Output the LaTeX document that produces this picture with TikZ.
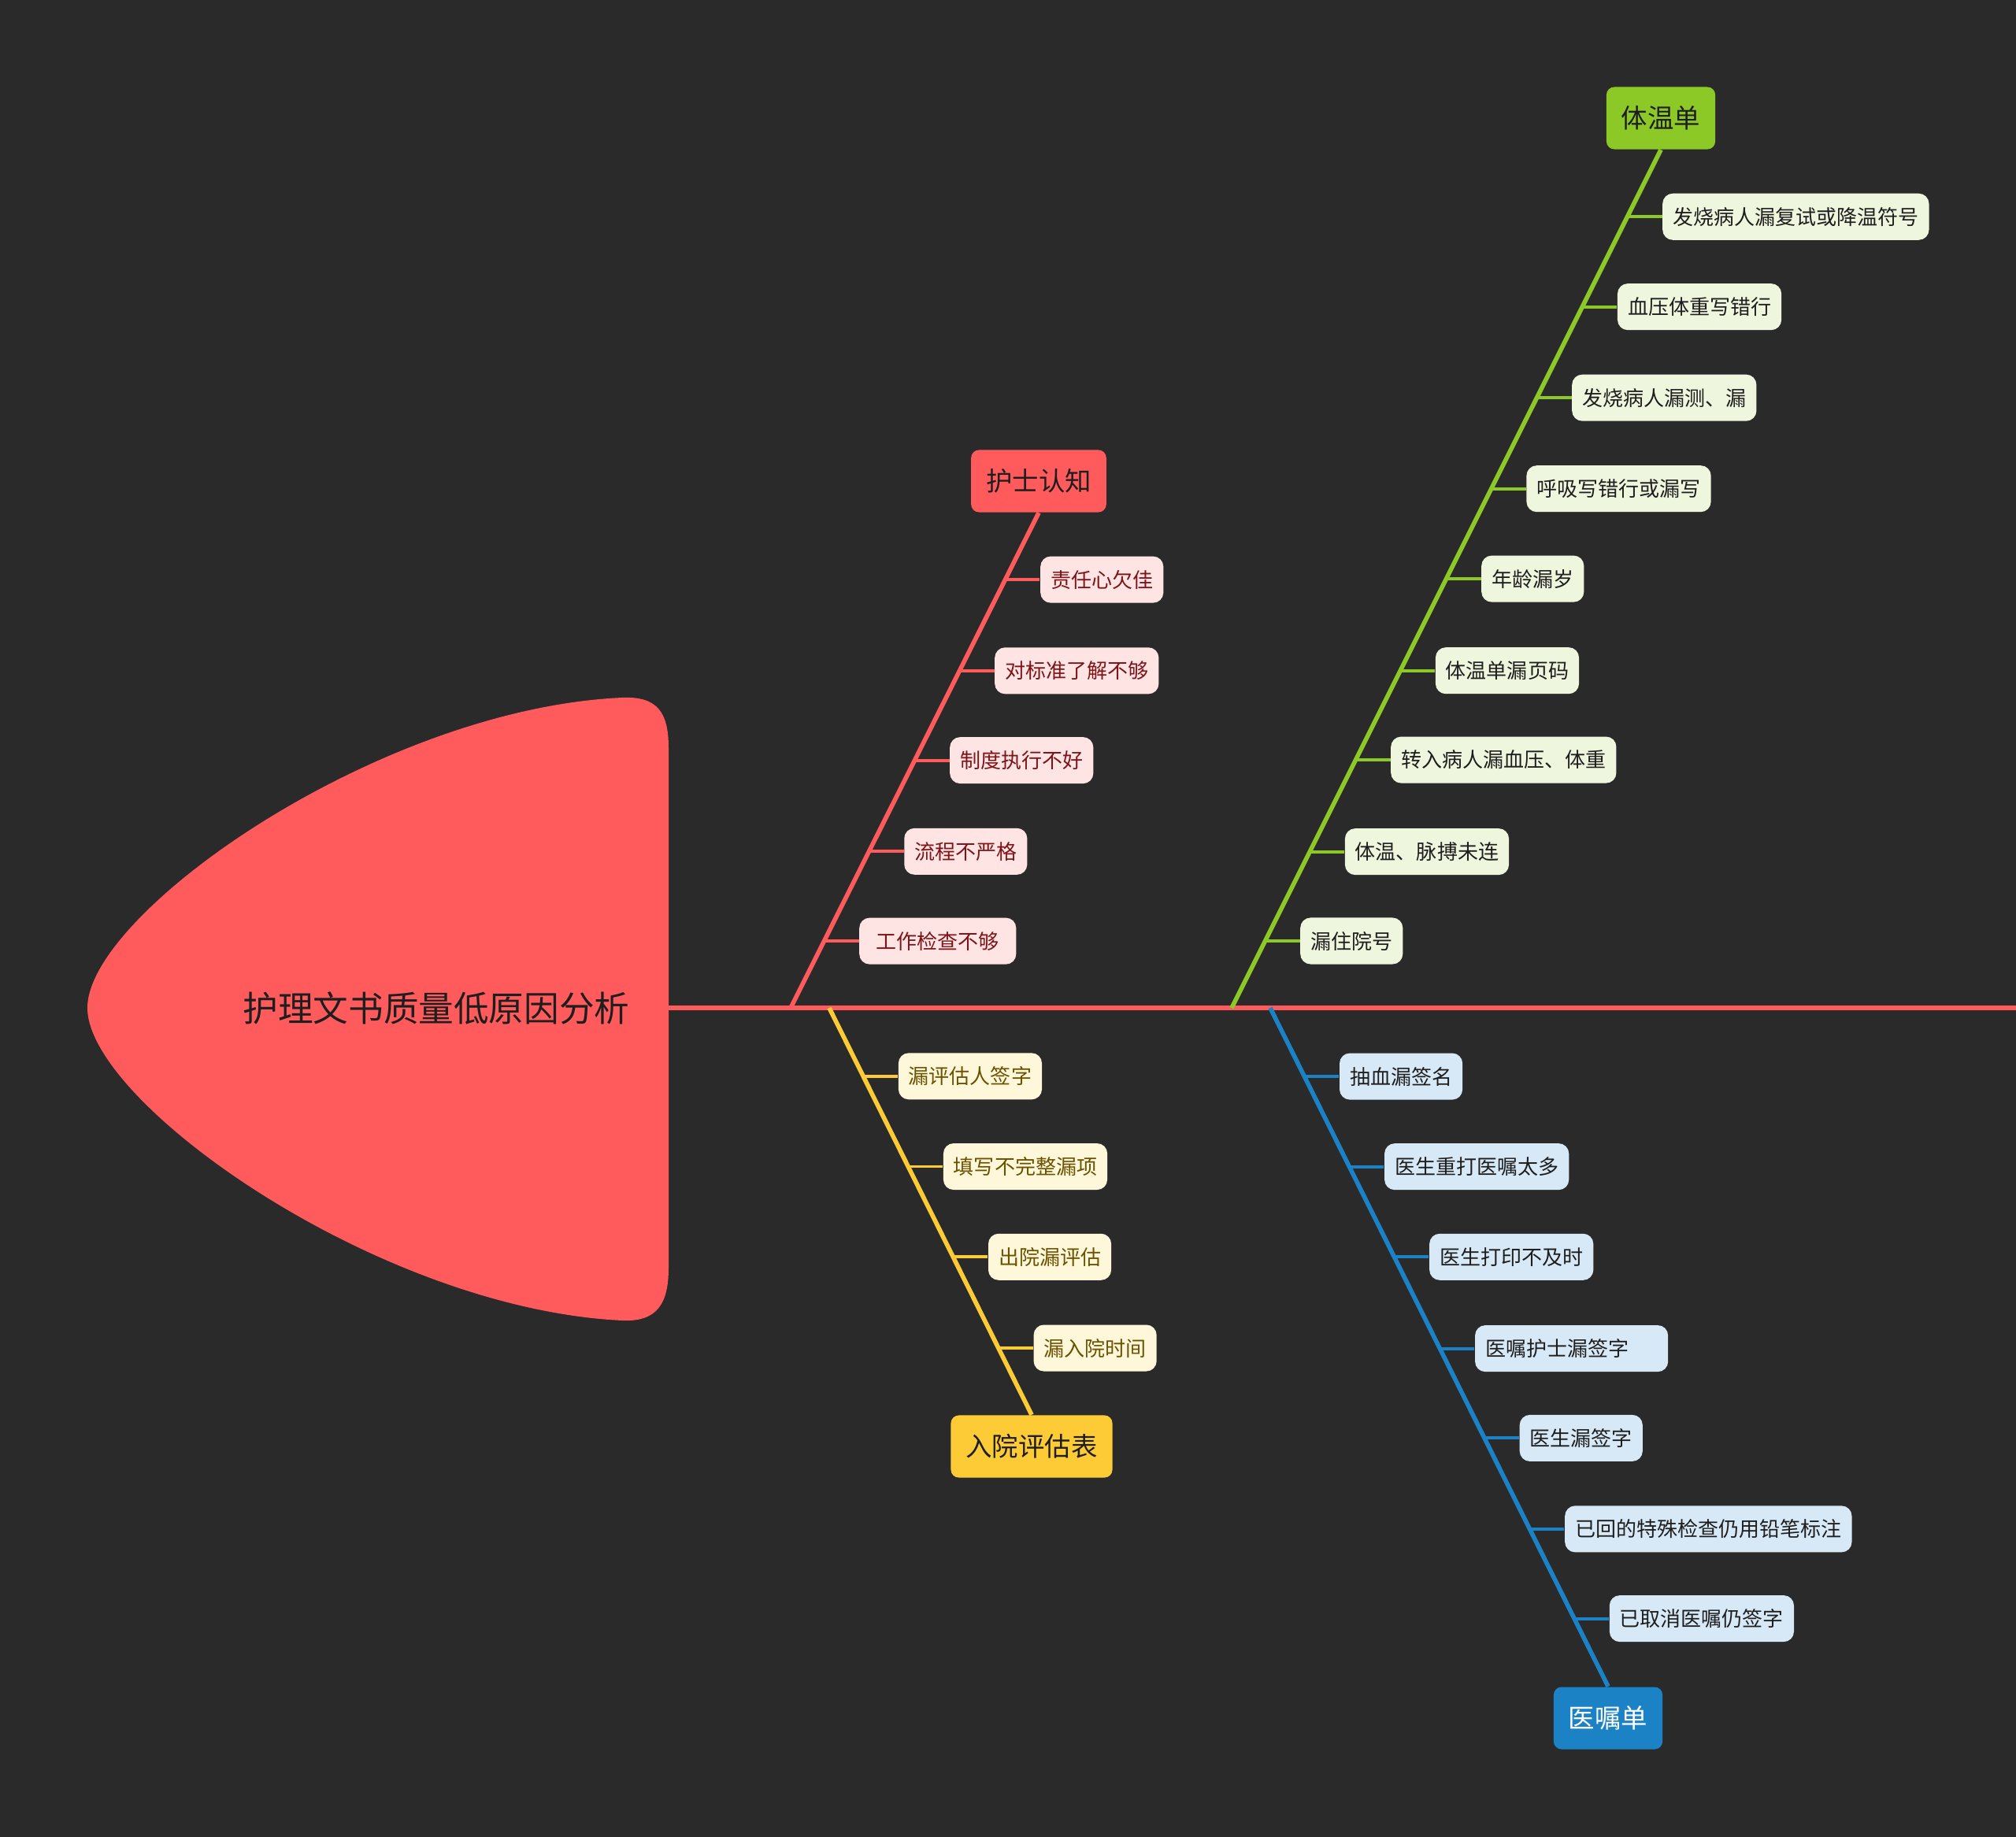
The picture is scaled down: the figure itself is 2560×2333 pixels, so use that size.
\documentclass[tikz,border=0pt]{standalone}
\usepackage{fontspec}
\usepackage{tikz}
\usetikzlibrary{calc, positioning}
\usepackage{xcolor}
\newfontfamily\cjk{Noto Sans CJK SC}
\definecolor{fishBg}{HTML}{2A2A2A}
\definecolor{fishRed}{HTML}{FF5A5C}
\definecolor{fishGreen}{HTML}{8DC926}
\definecolor{fishYellow}{HTML}{FDCB35}
\definecolor{fishBlue}{HTML}{1C82C6}
\definecolor{leafRed}{HTML}{FFE4E4}
\definecolor{leafGreen}{HTML}{EEF6DE}
\definecolor{leafYellow}{HTML}{FFF7DA}
\definecolor{leafBlue}{HTML}{D7E9F6}
\definecolor{inkRed}{HTML}{7D1419}
\definecolor{inkYellow}{HTML}{6B5200}
\definecolor{inkDark}{HTML}{1E1E1E}

\begin{document}
\begin{tikzpicture}[
    x=0.01cm, y=-0.01cm,
    spine/.style={draw=fishRed, line width=1.5pt},
    bone/.style={line width=1.6pt},
    stub/.style={line width=1.1pt},
    cause/.style={rounded corners=0.1cm, minimum height=0.79cm, inner xsep=0.19cm, inner ysep=0pt, font=\cjk\fontsize{9.5}{11}\selectfont},
    leaf/.style={anchor=west, rounded corners=0.13cm, minimum height=0.59cm, inner xsep=0.13cm, inner ysep=0pt, font=\cjk\fontsize{7.4}{9}\selectfont},
    redleaf/.style={leaf, fill=leafRed, text=inkRed},
    greenleaf/.style={leaf, fill=leafGreen, text=inkDark},
    yellowleaf/.style={leaf, fill=leafYellow, text=inkYellow},
    blueleaf/.style={leaf, fill=leafBlue, text=inkDark}
]
    \useasboundingbox (0,0) rectangle (2560,2333);
    \fill[fishBg] (0,0) rectangle (2560,2333);

    % head of the fish
    \fill[fishRed] (111,1280) .. controls (111,1160) and (480,900) .. (790,886)
        .. controls (835,884) and (849,905) .. (849,950) -- (849,1610)
        .. controls (849,1655) and (835,1679) .. (790,1677)
        .. controls (480,1662) and (111,1400) .. (111,1280) -- cycle;
    \node[font=\cjk\fontsize{12.7}{15}\selectfont, text=inkDark] (Title) at (554,1280) {护理文书质量低原因分析};

    \coordinate (headR) at (849,1280);
    \coordinate (tail) at (2560,1280);
    \coordinate (rs) at (1004,1280);
    \coordinate (ys) at (1053,1280);
    \coordinate (gs) at (1564,1280);
    \coordinate (bs) at (1613,1280);
    \draw[spine] (headR) -- (tail);

    \node[cause, fill=fishRed, text=inkDark] (Nurse) at (1319,611) {护士认知};
    \node[cause, fill=fishGreen, text=inkDark] (Chart) at (2109,150) {体温单};
    \node[cause, fill=fishYellow, text=inkDark] (Admit) at (1310,1837) {入院评估表};
    \node[cause, fill=fishBlue, text=white] (Order) at (2042,2182) {医嘱单};

    \draw[bone, fishRed] (Nurse.south) -- (rs);
    \draw[bone, fishGreen] (Chart.south) -- (gs);
    \draw[bone, fishYellow] (ys) -- (Admit.north);
    \draw[bone, fishBlue] (bs) -- (Order.north);

    % nurse
    \coordinate (r1) at ($(Nurse.south)!0.135!(rs)$);
    \coordinate (r2) at ($(Nurse.south)!0.319!(rs)$);
    \coordinate (r3) at ($(Nurse.south)!0.500!(rs)$);
    \coordinate (r4) at ($(Nurse.south)!0.684!(rs)$);
    \coordinate (r5) at ($(Nurse.south)!0.865!(rs)$);
    \node[redleaf] (R1) at ($(r1)+(44,0)$) {责任心欠佳};
    \node[redleaf] (R2) at ($(r2)+(44,0)$) {对标准了解不够};
    \node[redleaf] (R3) at ($(r3)+(44,0)$) {制度执行不好};
    \node[redleaf] (R4) at ($(r4)+(44,0)$) {流程不严格};
    \node[redleaf, minimum width=1.99cm] (R5) at ($(r5)+(44,0)$) {工作检查不够};
    \path[stub, draw=fishRed] (r1) -- (R1.west) (r2) -- (R2.west) (r3) -- (R3.west)
        (r4) -- (R4.west) (r5) -- (R5.west);

    % chart
    \coordinate (g1) at ($(Chart.south)!0.078!(gs)$);
    \coordinate (g2) at ($(Chart.south)!0.183!(gs)$);
    \coordinate (g3) at ($(Chart.south)!0.289!(gs)$);
    \coordinate (g4) at ($(Chart.south)!0.395!(gs)$);
    \coordinate (g5) at ($(Chart.south)!0.500!(gs)$);
    \coordinate (g6) at ($(Chart.south)!0.607!(gs)$);
    \coordinate (g7) at ($(Chart.south)!0.711!(gs)$);
    \coordinate (g8) at ($(Chart.south)!0.818!(gs)$);
    \coordinate (g9) at ($(Chart.south)!0.922!(gs)$);
    \node[greenleaf] (G1) at ($(g1)+(44,0)$) {发烧病人漏复试或降温符号};
    \node[greenleaf] (G2) at ($(g2)+(44,0)$) {血压体重写错行};
    \node[greenleaf] (G3) at ($(g3)+(44,0)$) {发烧病人漏测、漏};
    \node[greenleaf] (G4) at ($(g4)+(44,0)$) {呼吸写错行或漏写};
    \node[greenleaf] (G5) at ($(g5)+(44,0)$) {年龄漏岁};
    \node[greenleaf] (G6) at ($(g6)+(44,0)$) {体温单漏页码};
    \node[greenleaf] (G7) at ($(g7)+(44,0)$) {转入病人漏血压、体重};
    \node[greenleaf] (G8) at ($(g8)+(44,0)$) {体温、脉搏未连};
    \node[greenleaf] (G9) at ($(g9)+(44,0)$) {漏住院号};
    \path[stub, draw=fishGreen] (g1) -- (G1.west) (g2) -- (G2.west) (g3) -- (G3.west)
        (g4) -- (G4.west) (g5) -- (G5.west) (g6) -- (G6.west)
        (g7) -- (G7.west) (g8) -- (G8.west) (g9) -- (G9.west);

    % admission
    \coordinate (y1) at ($(ys)!0.168!(Admit.north)$);
    \coordinate (y2) at ($(ys)!0.390!(Admit.north)$);
    \coordinate (y3) at ($(ys)!0.612!(Admit.north)$);
    \coordinate (y4) at ($(ys)!0.836!(Admit.north)$);
    \node[yellowleaf] (Y1) at ($(y1)+(44,0)$) {漏评估人签字};
    \node[yellowleaf] (Y2) at ($(y2)+(44,0)$) {填写不完整漏项};
    \node[yellowleaf] (Y3) at ($(y3)+(44,0)$) {出院漏评估};
    \node[yellowleaf] (Y4) at ($(y4)+(44,0)$) {漏入院时间};
    \path[stub, draw=fishYellow] (y1) -- (Y1.west) (y2) -- (Y2.west)
        (y3) -- (Y3.west) (y4) -- (Y4.west);

    % orders
    \coordinate (b1) at ($(bs)!0.101!(Order.north)$);
    \coordinate (b2) at ($(bs)!0.234!(Order.north)$);
    \coordinate (b3) at ($(bs)!0.367!(Order.north)$);
    \coordinate (b4) at ($(bs)!0.502!(Order.north)$);
    \coordinate (b5) at ($(bs)!0.634!(Order.north)$);
    \coordinate (b6) at ($(bs)!0.768!(Order.north)$);
    \coordinate (b7) at ($(bs)!0.900!(Order.north)$);
    \node[blueleaf] (B1) at ($(b1)+(44,0)$) {抽血漏签名};
    \node[blueleaf] (B2) at ($(b2)+(44,0)$) {医生重打医嘱太多};
    \node[blueleaf] (B3) at ($(b3)+(44,0)$) {医生打印不及时};
    \node[blueleaf, text width=2.19cm, align=left] (B4) at ($(b4)+(44,0)$) {医嘱护士漏签字};
    \node[blueleaf] (B5) at ($(b5)+(44,0)$) {医生漏签字};
    \node[blueleaf] (B6) at ($(b6)+(44,0)$) {已回的特殊检查仍用铅笔标注};
    \node[blueleaf] (B7) at ($(b7)+(44,0)$) {已取消医嘱仍签字};
    \path[stub, draw=fishBlue] (b1) -- (B1.west) (b2) -- (B2.west) (b3) -- (B3.west)
        (b4) -- (B4.west) (b5) -- (B5.west) (b6) -- (B6.west) (b7) -- (B7.west);
\end{tikzpicture}
\end{document}
